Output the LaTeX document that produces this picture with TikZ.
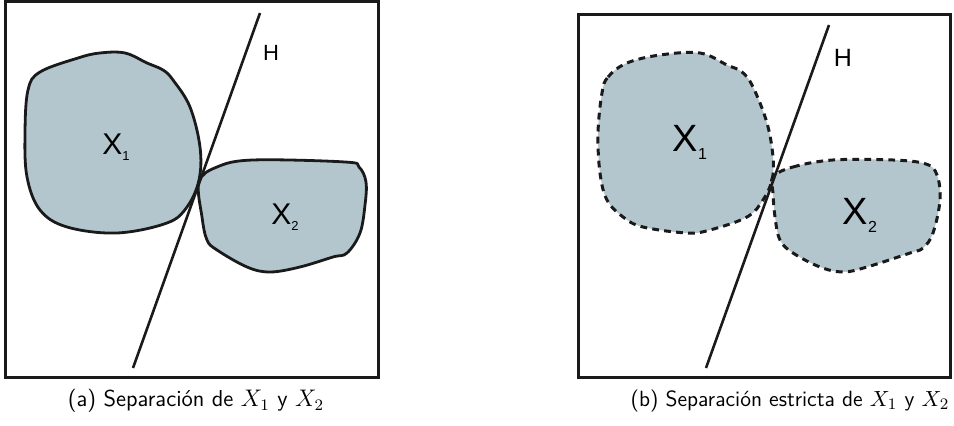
\documentclass[tikz,border=0pt]{standalone}
\usepackage{fontspec}
\usepackage{tikz}
\newfontfamily\labelfont{Liberation Sans}
\definecolor{setfill}{HTML}{B3C6CD}
\definecolor{ink}{HTML}{1A1A1A}

\begin{document}
\begin{tikzpicture}[x=0.5pt, y=-0.5pt,
    frame/.style={draw=ink, line width=1.5pt},
    hplane/.style={draw=ink, line width=1.3pt},
    blob/.style={fill=setfill, draw=ink, line width=1.4pt},
    openblob/.style={fill=setfill, draw=ink, line width=1.5pt, dash pattern=on 3.4pt off 2.6pt},
    lbl/.style={font=\labelfont, inner sep=0pt}]
  \useasboundingbox (0,0) rectangle (954,426);

  % (a) separacion
  \draw[frame] (5,2) rectangle (378,378);
  \draw[blob] plot[smooth cycle, tension=0.6] coordinates {
    (28,90) (40,72) (78,58) (100,53) (125,53) (147,63) (163,70) (173,80)
    (190,107) (200,147) (199,180) (187,207) (167,223) (117,233) (67,227)
    (40,210) (27,177) (25,133)};
  \draw[blob] plot[smooth cycle, tension=0.6] coordinates {
    (199,182) (217,167) (253,160) (345,162) (359,167) (366,182) (365,205)
    (360,233) (347,253) (333,257) (300,267) (270,272) (247,267) (217,250)
    (207,240) (202,217)};
  \coordinate (ha1) at (260,13);
  \coordinate (ha2) at (133,368);
  \draw[hplane] (ha1) -- (ha2);
  \node[lbl, font=\labelfont\fontsize{11}{12}\selectfont] (Ha) at (271,53) {H};
  \node[lbl, font=\labelfont\fontsize{15}{17}\selectfont] (X1a) at (116,147) {X\raisebox{-0.4ex}{\fontsize{6.5}{7}\selectfont 1}};
  \node[lbl, font=\labelfont\fontsize{15}{17}\selectfont] (X2a) at (285,217) {X\raisebox{-0.4ex}{\fontsize{6.5}{7}\selectfont 2}};
  \node[font=\sffamily\fontsize{11.5}{13}\selectfont] (capa) at (196,401) {(a) Separación de $X_1$ y $X_2$};

  % (b) separacion estricta
  \draw[frame] (578,15) rectangle (950,378);
  \draw[openblob] plot[smooth cycle, tension=0.6] coordinates {
    (602,93) (608,77) (627,63) (660,55) (700,53) (727,65) (742,72) (753,87)
    (767,123) (773,157) (772,180) (763,200) (747,217) (710,230) (687,233)
    (643,227) (623,217) (607,200) (600,173) (598,133)};
  \draw[openblob] plot[smooth cycle, tension=0.6] coordinates {
    (773,177) (793,167) (833,160) (893,160) (926,164) (937,175) (940,200)
    (933,233) (923,248) (910,253) (867,267) (843,272) (820,267) (793,253)
    (780,240) (775,217) (773,193)};
  \coordinate (hb1) at (829,25);
  \coordinate (hb2) at (706,368);
  \draw[hplane] (hb1) -- (hb2);
  \node[lbl, font=\labelfont\fontsize{12.5}{14}\selectfont] (Hb) at (843,58) {H};
  \node[lbl, font=\labelfont\fontsize{19}{21}\selectfont] (X1b) at (690,142) {X\raisebox{-0.4ex}{\fontsize{8}{9}\selectfont 1}};
  \node[lbl, font=\labelfont\fontsize{19}{21}\selectfont] (X2b) at (860,215) {X\raisebox{-0.4ex}{\fontsize{8}{9}\selectfont 2}};
  \node[font=\sffamily\fontsize{11}{13}\selectfont] (capb) at (790,401) {(b) Separación estricta de $X_1$ y $X_2$};
\end{tikzpicture}
\end{document}
